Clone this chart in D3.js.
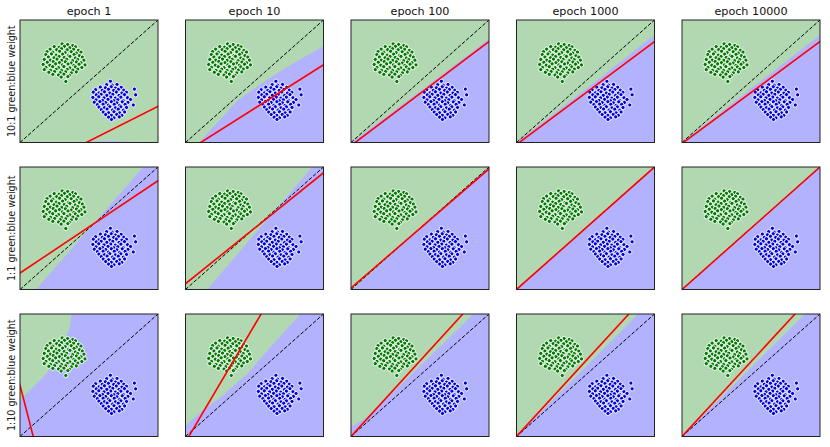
<!DOCTYPE html>
<html><head><meta charset="utf-8">
<script src="https://cdn.jsdelivr.net/npm/d3@7"></script>
<style>html,body{margin:0;padding:0;background:#fff;}svg{display:block;}</style>
</head><body>
<svg id="chart" width="830" height="447"></svg>
<script>
// ---- data ----
const epochLabels = ["epoch 1", "epoch 10", "epoch 100", "epoch 1000", "epoch 10000"];
const rowLabels = ["10:1 green:blue weight", "1:1 green:blue weight", "1:10 green:blue weight"];

const greenPts = [
[0.305,0.805],[0.345,0.800],[0.382,0.792],
[0.248,0.783],[0.283,0.778],[0.322,0.785],[0.361,0.774],[0.402,0.781],
[0.218,0.762],[0.266,0.758],[0.301,0.766],[0.342,0.757],[0.388,0.761],[0.423,0.752],
[0.196,0.742],[0.238,0.737],[0.287,0.745],[0.327,0.734],[0.371,0.741],[0.408,0.730],[0.442,0.738],
[0.187,0.718],[0.228,0.723],[0.262,0.713],[0.309,0.721],[0.352,0.711],[0.392,0.719],[0.431,0.709],
[0.206,0.698],[0.247,0.692],[0.283,0.702],[0.321,0.694],[0.362,0.703],[0.401,0.690],[0.452,0.697],
[0.176,0.678],[0.219,0.672],[0.268,0.681],[0.302,0.670],[0.338,0.679],[0.381,0.668],[0.418,0.677],[0.463,0.672],
[0.198,0.655],[0.241,0.661],[0.286,0.652],[0.329,0.659],[0.371,0.649],[0.409,0.657],[0.442,0.651],
[0.168,0.637],[0.216,0.631],[0.258,0.642],[0.307,0.633],[0.348,0.641],[0.391,0.630],[0.428,0.639],[0.471,0.633],
[0.188,0.613],[0.237,0.619],[0.279,0.611],[0.318,0.620],[0.361,0.609],[0.401,0.617],[0.448,0.612],
[0.176,0.595],[0.221,0.589],[0.262,0.598],[0.301,0.588],[0.342,0.597],[0.383,0.591],[0.419,0.599],
[0.209,0.573],[0.251,0.579],[0.292,0.570],[0.331,0.577],[0.372,0.568],[0.408,0.576],
[0.238,0.556],[0.279,0.551],[0.318,0.558],[0.358,0.549],
[0.298,0.534],[0.347,0.538],
[0.332,0.498]
];

const bluePts = [
[0.655,0.500],
[0.628,0.472],[0.668,0.468],[0.703,0.474],
[0.582,0.452],[0.619,0.447],[0.661,0.455],[0.692,0.444],[0.733,0.451],
[0.548,0.431],[0.597,0.426],[0.641,0.434],[0.679,0.425],[0.713,0.433],[0.752,0.427],[0.829,0.436],
[0.531,0.411],[0.572,0.405],[0.612,0.414],[0.651,0.404],[0.698,0.412],[0.738,0.403],[0.771,0.410],
[0.553,0.389],[0.588,0.394],[0.629,0.385],[0.672,0.393],[0.718,0.384],[0.757,0.391],[0.838,0.389],
[0.528,0.368],[0.571,0.373],[0.609,0.364],[0.658,0.371],[0.691,0.362],[0.731,0.370],[0.779,0.366],
[0.551,0.348],[0.598,0.343],[0.638,0.352],[0.681,0.341],[0.709,0.349],[0.748,0.342],[0.801,0.351],
[0.538,0.329],[0.579,0.334],[0.621,0.326],[0.662,0.333],[0.702,0.324],[0.741,0.332],[0.782,0.327],
[0.561,0.309],[0.602,0.313],[0.641,0.305],[0.683,0.312],[0.722,0.303],[0.762,0.311],[0.821,0.306],
[0.572,0.289],[0.612,0.284],[0.651,0.292],[0.692,0.283],[0.731,0.291],[0.772,0.286],
[0.589,0.268],[0.631,0.273],[0.671,0.265],[0.712,0.272],[0.749,0.264],
[0.603,0.248],[0.642,0.243],[0.681,0.251],[0.722,0.242],[0.758,0.249],
[0.621,0.228],[0.662,0.222],[0.701,0.229],[0.738,0.221],
[0.642,0.207],[0.681,0.201],[0.719,0.209],
[0.663,0.188]
];

// red (linear) classifier line per panel, row-major: [[x1,y1],[x2,y2]]
const redLines = [
  [[0.48,0],[1,0.295]], [[0.11,0],[1,0.634]], [[0.03,0],[1,0.824]], [[0.02,0],[1,0.824]], [[0.01,0],[1,0.824]],
  [[0,0.134],[1,0.888]], [[0,0.047],[1,0.953]], [[0,0.012],[1,0.985]], [[0,0],[1,1]], [[0,0],[1,1]],
  [[0,0.418],[0.096,0]], [[0.024,0],[0.548,1]], [[0,0],[0.81,1]], [[0,0],[0.814,1]], [[0,0],[0.819,1]]
];

// green/blue decision boundary per panel (green lies above/left)
const boundaries = [
  [[0.38,-0.05],[0.45,0],[0.55,0.010],[0.66,0.013],[0.78,0.008],[0.87,0],[1.0,-0.03]],
  [[0.097,0],[0.18,0.10],[0.254,0.19],[0.375,0.34],[0.5,0.44],[0.616,0.53],[0.8,0.66],[1,0.785]],
  [[0,0],[0.3,0.25],[0.6,0.505],[1,0.845]],
  [[0,0],[0.5,0.435],[1,0.878]],
  [[0,0],[0.5,0.44],[1,0.878]],
  [[0.116,0],[0.894,1]],
  [[0.157,0],[0.918,1]],
  [[0.01,0],[1,1]],
  [[0,0],[1,1]],
  [[0,0],[1,1]],
  [[0,0.295],[0.096,0.404],[0.193,0.514],[0.266,0.65],[0.326,0.787],[0.362,0.896],[0.374,1]],
  [[0,0.09],[0.06,0.15],[0.133,0.22],[0.254,0.32],[0.447,0.51],[0.616,0.73],[0.833,1]],
  [[0,0.08],[0.1,0.14],[0.3,0.355],[0.5,0.575],[0.7,0.794],[0.886,1]],
  [[0,0],[0.882,1]],
  [[0,0],[0.891,1]]
];

// ---- layout ----
const svg = d3.select("#chart");
const W = 138, H = 122.5;
const colX = d3.scaleLinear().domain([0,1]).range([20, 185.5]);
const rowY = d3.scaleLinear().domain([0,1]).range([20, 167]);
const x = d3.scaleLinear().domain([0,1]).range([0, W]);
const y = d3.scaleLinear().domain([0,1]).range([H, 0]);
const line = d3.line().x(d => x(d[0])).y(d => y(d[1]));
const font = "DejaVu Sans, sans-serif";

epochLabels.forEach((t, c) => {
  svg.append("text").attr("x", colX(c) + W/2).attr("y", 15)
    .attr("text-anchor", "middle").attr("font-family", font).attr("font-size", 11.2)
    .attr("fill", "#111").text(t);
});
rowLabels.forEach((t, r) => {
  const cy = rowY(r) + H/2;
  svg.append("text").attr("transform", `translate(14.5,${cy}) rotate(-90)`)
    .attr("text-anchor", "middle").attr("font-family", font).attr("font-size", 9.6)
    .attr("fill", "#222").text(t);
});

for (let r = 0; r < 3; r++) {
  for (let c = 0; c < 5; c++) {
    const i = r * 5 + c;
    const g = svg.append("g").attr("transform", `translate(${colX(c)},${rowY(r)})`);
    const cid = "clip" + i;
    g.append("clipPath").attr("id", cid).append("rect").attr("width", W).attr("height", H);
    const inner = g.append("g").attr("clip-path", `url(#${cid})`);
    inner.append("rect").attr("width", W).attr("height", H).attr("fill", "#b2b2ff");
    const b = boundaries[i];
    const poly = b.concat([[b[b.length-1][0], 2], [-1, 2], [-1, b[0][1]]]);
    inner.append("path").attr("d", line(poly) + "Z").attr("fill", "#b2d8b2");
    inner.selectAll("circle.g").data(greenPts).enter().append("circle")
      .attr("cx", d => x(d[0])).attr("cy", d => y(d[1])).attr("r", 2.1)
      .attr("fill", "#007a00").attr("stroke", "#fff").attr("stroke-width", 0.9);
    inner.selectAll("circle.b").data(bluePts).enter().append("circle")
      .attr("cx", d => x(d[0])).attr("cy", d => y(d[1])).attr("r", 2.1)
      .attr("fill", "#0000e0").attr("stroke", "#fff").attr("stroke-width", 0.9);
    inner.append("path").attr("d", line([[0,0],[1,1]])).attr("fill", "none")
      .attr("stroke", "#000").attr("stroke-width", 1).attr("stroke-dasharray", "3.7,1.8");
    // extend red line across panel
    const [[x1,y1],[x2,y2]] = redLines[i];
    const dx = x2 - x1, dy = y2 - y1;
    const ext = [[x1 - dx*3, y1 - dy*3], [x2 + dx*3, y2 + dy*3]];
    inner.append("path").attr("d", line(ext)).attr("fill", "none")
      .attr("stroke", "#f00").attr("stroke-width", 1.6);
    g.append("rect").attr("width", W).attr("height", H).attr("fill", "none")
      .attr("stroke", "#222").attr("stroke-width", 1);
  }
}
</script>
</body></html>
